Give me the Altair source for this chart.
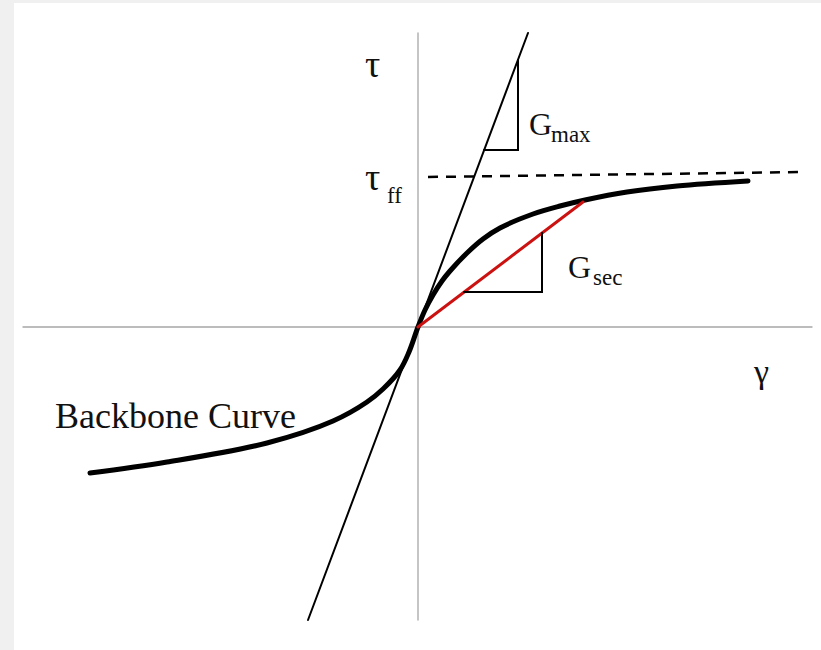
import altair as alt
import pandas as pd

# Shear stress-strain schematic: backbone curve, initial (Gmax) and secant (Gsec) moduli.
# gamma = shear strain, tau = shear stress (arbitrary units)

backbone_gamma = [-3.28, -2.51, -1.51, -0.85, -0.51, -0.35, -0.18, -0.09, 0.0,
                  0.07, 0.15, 0.24, 0.32, 0.49, 0.65, 0.82, 1.15, 1.42, 1.67, 2.09, 2.59, 3.30]
backbone_tau = [-1.46, -1.35, -1.16, -0.94, -0.75, -0.62, -0.43, -0.25, 0.0,
                0.17, 0.32, 0.46, 0.56, 0.74, 0.88, 0.99, 1.13, 1.21, 1.27, 1.35, 1.41, 1.46]

gmax_gamma = [-1.10, 1.10]
gmax_tau = [-2.93, 2.94]

tauff_gamma = [0.10, 3.85]
tauff_tau = [1.50, 1.55]

gsec_gamma = [0.0, 1.65]
gsec_tau = [0.0, 1.25]

gmax_tri_gamma = [0.66, 1.00, 1.00]
gmax_tri_tau = [1.77, 1.77, 2.67]

gsec_tri_gamma = [0.46, 1.24, 1.24]
gsec_tri_tau = [0.35, 0.35, 0.94]

axis_v_gamma = [0.0, 0.0]
axis_v_tau = [-2.93, 2.94]
axis_h_gamma = [-3.95, 3.94]
axis_h_tau = [0.0, 0.0]

X_DOMAIN = [-4.04, 4.03]
Y_DOMAIN = [-3.23, 3.24]


def frame(gs, ts):
    return pd.DataFrame({"gamma": gs, "tau": ts, "order": list(range(len(gs)))})


xs = alt.Scale(domain=X_DOMAIN, nice=False, zero=False)
ys = alt.Scale(domain=Y_DOMAIN, nice=False, zero=False)


def line(df, color, width, dash=None, interp="linear"):
    kw = dict(color=color, strokeWidth=width, strokeCap="round", clip=False,
              interpolate=interp)
    if dash:
        kw["strokeDash"] = dash
        kw["strokeCap"] = "butt"
    return alt.Chart(df).mark_line(**kw).encode(
        x=alt.X("gamma:Q", scale=xs, axis=None),
        y=alt.Y("tau:Q", scale=ys, axis=None),
        order="order:Q",
    )


axes = (line(frame(axis_v_gamma, axis_v_tau), "#a6a6a6", 1.3)
        + line(frame(axis_h_gamma, axis_h_tau), "#a6a6a6", 1.3))

gmax_line = line(frame(gmax_gamma, gmax_tau), "#000000", 2)
tauff_line = line(frame(tauff_gamma, tauff_tau), "#000000", 2.5, dash=[10, 8])
backbone = line(frame(backbone_gamma, backbone_tau), "#000000", 5, interp="catmull-rom")
gsec_line = line(frame(gsec_gamma, gsec_tau), "#cc1111", 3)

gmax_tri = line(frame(gmax_tri_gamma, gmax_tri_tau), "#000000", 2)
gsec_tri = line(frame(gsec_tri_gamma, gsec_tri_tau), "#000000", 2)

# annotation labels (main glyph + subscript)
labels = pd.DataFrame({
    "gamma": [-0.53, -0.53, 1.11, 1.50, 3.36, -3.63],
    "tau": [2.50, 1.37, 1.92, 0.49, -0.56, -1.01],
    "text": ["τ", "τ", "G", "G", "γ", "Backbone Curve"],
    "size": [38, 38, 32, 32, 34, 36],
})
subs = pd.DataFrame({
    "gamma": [-0.31, 1.33, 1.75],
    "tau": [1.24, 1.85, 0.42],
    "text": ["ff", "max", "sec"],
})

label_layer = alt.Chart(labels).mark_text(
    align="left", baseline="alphabetic", font="Liberation Serif", color="#111111"
).encode(
    x=alt.X("gamma:Q", scale=xs, axis=None),
    y=alt.Y("tau:Q", scale=ys, axis=None),
    text="text:N",
    size=alt.Size("size:Q", scale=None, legend=None),
)
sub_layer = alt.Chart(subs).mark_text(
    align="left", baseline="alphabetic", font="Liberation Serif", fontSize=23, color="#111111"
).encode(
    x=alt.X("gamma:Q", scale=xs, axis=None),
    y=alt.Y("tau:Q", scale=ys, axis=None),
    text="text:N",
)

chart = alt.layer(
    axes, gmax_line, tauff_line, backbone, gsec_line, gmax_tri, gsec_tri, label_layer, sub_layer
).properties(
    width=807,
    height=647,
    padding={"left": 14, "top": 3, "right": 0, "bottom": 0},
    autosize=alt.AutoSizeParams(type="none"),
    background="#f0f0f0",
).configure_view(fill="#ffffff", stroke=None)

chart.save("out.html", embed_options={"renderer": "svg", "actions": False})
